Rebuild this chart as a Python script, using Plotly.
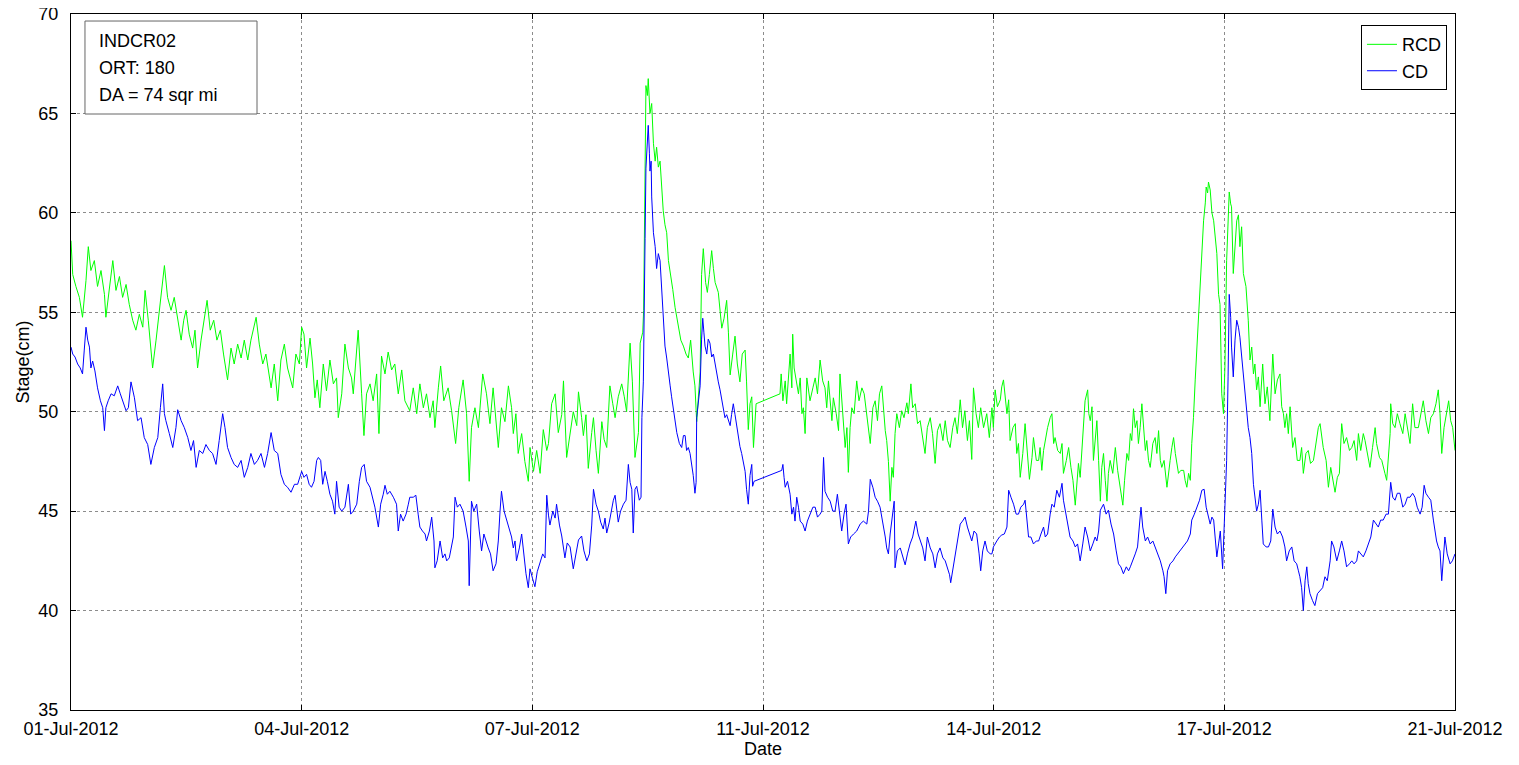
import pandas as pd
import plotly.graph_objs as go

# Стадия (см) по часам от 01-Jul-2012 00:00
rcd_hours = [
    0, 0.6, 1.7, 2.9, 4.0, 5.2, 6.0, 6.9, 8.1, 9.2,
    10.4, 11.6, 12.1, 13.3, 14.5, 15.6, 16.8, 17.9, 19.1, 20.2,
    21.4, 22.5, 23.7, 24.9, 25.7, 26.8, 28.3, 29.5, 30.3, 31.2,
    32.4, 33.5, 34.7, 35.8, 37.0, 38.2, 39.1, 39.9, 41.0, 42.2,
    43.0, 43.9, 45.1, 46.2, 47.2, 48.3, 49.5, 50.6, 51.8, 52.9,
    54.3, 55.5, 56.6, 57.8, 59.0, 60.1, 61.3, 62.4, 64.2, 65.3,
    66.5, 67.6, 69.4, 70.5, 71.7, 72.8, 74.0, 75.1, 76.9, 78.0,
    79.2,
    80.0, 80.8, 81.7, 82.9, 83.8, 84.6, 85.4, 86.3, 87.5, 88.6,
    89.8, 91.0, 92.1, 92.7, 93.9, 95.0, 96.2, 97.3, 97.9, 98.8,
    99.6, 100.8, 101.6, 102.5, 103.7, 104.8, 106.0, 106.8, 107.7, 108.9,
    110.0, 111.2, 112.3, 113.5, 114.7, 115.8, 117.5, 118.7, 119.9, 121.0,
    122.2, 123.3, 124.5, 125.6, 126.2, 127.4, 128.2, 129.3, 130.8, 132.0,
    133.4, 134.5, 136.0, 137.2, 138.1, 138.9, 140.1, 141.3, 142.8, 144.1,
    145.3, 146.4, 148.2, 149.3, 150.5, 151.7, 152.8, 153.4, 154.3, 155.1,
    156.3, 157.4, 158.6,
    159.2, 160.4, 161.5, 162.7, 163.8, 165.0, 165.6, 166.7, 167.9, 169.0,
    170.2, 170.8, 171.9, 173.1, 174.2, 175.4, 176.0, 177.1, 177.7, 178.6,
    179.4, 180.6, 181.2, 182.1, 182.9, 184.1, 184.9, 185.8, 186.9, 187.9,
    188.7, 189.8, 191.0, 191.9, 192.7, 193.9, 194.7, 195.6, 196.8, 197.4,
    198.3, 198.6, 199.1, 199.4, 199.9, 200.2, 200.8, 201.4, 202.0, 202.6,
    203.1, 203.7, 204.3, 204.9, 205.4, 206.0, 206.6, 207.2, 207.8, 208.7,
    209.5, 210.1, 210.6, 211.5, 212.4, 213.3, 214.1, 214.9, 215.8, 216.4,
    217.0, 217.6, 218.2, 218.7, 219.3, 220.1, 220.7, 221.4, 222.2, 222.8,
    223.4, 224.5, 225.1, 225.7, 226.5, 227.4, 228.0, 228.6, 229.5, 230.3,
    231.1, 232.0, 232.8, 233.8, 234.3, 234.9, 235.5, 236.1, 236.7, 237.2,
    237.6,
    245.9, 246.3, 246.9, 247.7, 248.2, 248.8, 249.4, 250.0, 250.3, 250.8,
    251.5, 252.3, 252.9, 253.5, 254.0, 254.6, 255.2, 256.3, 257.3, 258.1,
    258.9, 259.8, 260.7, 261.5, 262.1, 262.7, 263.9, 264.4, 265.4, 266.2,
    266.7, 267.7, 268.5, 269.1, 269.6, 270.2, 270.8, 271.6, 272.5, 273.3,
    274.3, 275.1, 276.0, 276.6, 277.2, 278.1, 278.9, 279.7, 280.4, 281.2,
    281.8, 282.4, 282.9, 283.5, 284.1, 284.7, 285.2, 285.8, 286.4, 287.3,
    288.1, 288.9, 289.9, 290.4, 291.3, 291.9, 292.8, 293.6, 294.5, 295.4,
    296.2, 297.0, 298.0, 298.8, 299.7, 300.5, 301.4, 302.4, 303.2, 304.0,
    304.9, 305.8, 306.6, 307.4, 308.4, 309.2, 310.0, 310.9, 311.6, 312.4,
    313.0, 313.9, 314.7, 315.5, 316.5, 317.6, 318.5,
    319.4, 319.9, 320.5, 321.3, 322.3, 322.8, 323.4, 324.0, 324.6, 325.2,
    325.7, 326.7, 327.5, 328.0, 328.6, 329.2, 330.1, 330.9, 331.7, 332.4,
    333.3, 333.8, 334.8, 335.6, 336.1, 336.7, 337.3, 337.9, 338.7, 339.6,
    340.2, 340.8, 341.3, 342.2, 343.1, 343.7, 344.2, 345.2, 346.0, 346.8,
    347.5, 348.3, 348.9, 349.4, 350.0, 350.6, 351.2, 351.7, 352.6, 353.0,
    353.5, 354.1, 354.6, 355.2, 355.8, 356.4, 357.0, 357.5, 358.1, 358.7,
    359.3, 359.8, 360.4, 361.3, 362.2, 363.0, 363.9, 364.8, 365.4, 366.2,
    366.8, 367.4, 367.9, 368.5, 369.1, 369.7, 370.2, 370.8, 371.4, 372.0,
    372.6, 373.1, 373.7, 374.3, 375.2, 376.0, 376.6, 377.2, 377.8, 378.3,
    379.1, 380.1, 380.6, 381.2, 381.8, 382.4, 383.0, 383.5, 384.1, 384.9,
    385.9, 386.4, 387.0, 387.6, 388.2, 388.7, 389.3, 389.9, 390.5, 391.1,
    391.6, 392.2, 392.8, 393.4, 393.7, 394.2, 394.5, 395.1, 395.7, 396.3,
    396.8, 397.4, 398.0,
    398.5, 398.8, 399.1, 399.7, 400.2, 400.8, 401.4, 401.7, 402.2, 402.5,
    403.1, 403.7, 404.3, 404.9, 405.4, 406.0, 406.6, 407.5, 408.3, 408.9,
    409.5, 410.1, 410.6, 411.2, 411.8, 412.4, 413.3, 414.1, 414.9, 415.8,
    416.8, 417.6, 418.4, 419.3, 419.9, 420.5, 421.0, 421.6, 422.2, 422.8,
    423.7, 424.5, 425.3, 426.2, 426.8, 427.4, 428.3, 429.1, 429.9, 430.9,
    431.8, 432.6, 433.2, 433.8, 434.3, 435.3, 436.1, 436.9, 437.8, 438.4,
    439.2, 439.9, 440.7, 441.5, 442.4, 443.4, 444.2, 445.0, 445.9, 446.5,
    447.3, 448.2, 448.8, 449.6, 450.5, 451.4, 452.3, 452.8, 453.8, 454.6,
    455.1, 455.7, 456.3, 456.9, 457.5, 457.7, 458.4, 459.2, 460.0, 460.9,
    461.9, 462.7, 463.5, 464.4, 465.3, 466.1, 467.3, 468.1, 469.0, 469.9,
    470.8, 471.6, 472.5, 473.4, 474.2, 474.8, 475.4, 476.2, 477.1, 477.8,
    478.5, 479.2, 480.0,
]
rcd_stage = [
    58.6, 56.9, 56.3, 55.75, 54.75, 56.6, 58.3, 57.1, 57.6, 56.3,
    57.1, 55.9, 54.75, 56.3, 57.6, 56.1, 56.8, 55.75, 56.4, 55.4,
    54.6, 54.1, 54.9, 54.25, 56.1, 54.6, 52.2, 53.6, 54.6, 55.9,
    57.35, 55.75, 55.1, 55.75, 54.6, 53.6, 54.6, 55.1, 53.9, 53.2,
    54.1, 52.2, 53.6, 54.6, 55.6, 54.1, 54.6, 53.6, 54.1, 52.9,
    51.6, 53.2, 52.4, 53.4, 52.7, 53.6, 52.6, 53.6, 54.75, 53.4,
    52.4, 52.9, 51.2, 52.4, 50.55, 52.6, 53.4, 52.2, 51.2, 52.9,
    52.4,
    54.25, 53.9, 52.2, 53.7, 52.4, 50.7, 51.6, 50.2, 52.4, 51.05,
    52.6, 51.4, 51.7, 49.7, 50.9, 53.4, 52.2, 51.7, 50.9, 52.6,
    54.1, 50.9, 48.8, 50.9, 51.4, 50.55, 51.9, 48.9, 52.8, 51.9,
    53.0, 52.1, 52.4, 50.9, 52.1, 50.55, 50.05, 51.2, 49.9, 51.4,
    50.2, 50.9, 49.7, 50.55, 49.2, 51.2, 52.3, 50.55, 51.2, 50.05,
    48.4, 50.2, 51.6, 49.9, 46.5, 49.2, 50.2, 49.2, 51.9, 50.9,
    49.4, 51.2, 48.2, 50.2, 49.5, 51.3, 50.2, 48.9, 49.9, 47.9,
    48.9, 47.5, 46.5,
    48.2, 47.0, 48.05, 46.9, 49.1, 48.05, 48.4, 50.4, 50.9, 48.95,
    49.85, 51.55, 47.7, 48.95, 50.0, 49.3, 51.0, 49.7, 48.8, 49.85,
    47.15, 48.95, 49.7, 48.05, 46.9, 49.5, 48.6, 48.2, 51.3, 50.4,
    49.7, 50.75, 51.4, 50.75, 50.0, 53.45, 51.5, 47.7, 48.95, 53.45,
    54.0, 55.1, 62.3, 66.4, 65.9, 66.75, 65.0, 65.5, 63.5, 62.6,
    63.3, 62.3, 62.6, 61.2, 60.1, 59.4, 59.0, 57.6, 56.9, 56.15,
    55.25, 54.7, 54.35, 53.6, 53.3, 52.9, 52.7, 53.6, 52.0, 51.3,
    49.5, 50.75, 52.0, 56.9, 58.2, 56.5, 56.0, 56.9, 58.1, 57.2,
    56.5, 56.0, 55.1, 54.2, 54.7, 55.6, 54.0, 51.85, 52.9, 53.8,
    52.4, 51.5, 52.9, 53.1, 51.5, 49.1, 50.4, 50.75, 48.2, 49.85,
    50.4,
    50.9, 51.9, 50.55, 51.55, 50.4, 51.7, 52.9, 51.2, 53.9, 52.2,
    51.55, 50.9, 51.7, 49.9, 50.2, 48.9, 51.7, 50.55, 51.2, 51.7,
    50.9, 52.6, 51.55, 51.2, 50.2, 51.55, 49.55, 50.7, 49.9, 49.05,
    51.9, 49.9, 48.2, 49.2, 46.95, 49.2, 50.2, 49.9, 51.55, 50.55,
    51.2, 50.9, 49.9, 49.2, 48.4, 50.2, 50.55, 49.55, 50.9, 51.3,
    50.05, 49.05, 48.55, 47.5, 45.5, 47.2, 46.7, 48.9, 49.9, 49.2,
    50.05, 49.7, 50.45, 49.9, 51.4, 50.2, 50.4, 49.4, 49.55, 48.7,
    47.9, 49.2, 49.7, 48.9, 47.4, 49.05, 49.4, 48.55, 49.55, 48.55,
    48.2, 49.2, 49.7, 48.9, 50.6, 49.2, 50.05, 48.55, 49.55, 47.6,
    51.2, 49.9, 49.2, 50.2, 49.2, 49.9, 48.7,
    50.2, 49.2, 51.1, 50.25, 50.6, 51.25, 51.6, 50.6, 49.9, 50.6,
    48.55, 49.2, 49.4, 47.9, 48.4, 46.7, 47.9, 49.4, 47.9, 46.6,
    47.7, 48.7, 47.55, 47.55, 48.2, 47.05, 48.05, 48.55, 49.2, 49.7,
    49.9, 48.4, 48.7, 48.05, 47.9, 48.4, 46.9, 47.55, 48.2, 47.2,
    46.55, 45.3, 46.55, 47.4, 46.7, 47.9, 49.2, 50.55, 51.1, 49.9,
    49.55, 50.25, 47.55, 48.7, 49.55, 47.55, 45.5, 47.2, 47.9, 46.55,
    45.5, 46.9, 47.55, 46.9, 48.2, 47.05, 46.05, 45.3, 46.55, 47.9,
    47.55, 48.9, 48.55, 50.15, 49.2, 49.55, 48.4, 49.2, 50.4, 48.9,
    48.05, 48.55, 47.55, 47.2, 48.4, 48.7, 47.9, 49.05, 47.55, 47.2,
    47.55, 46.2, 46.9, 47.55, 48.2, 48.7, 47.9, 47.4, 46.9, 47.05,
    47.05, 46.55, 46.2, 46.9, 46.55, 48.4, 49.7, 51.6, 53.25, 54.9,
    56.3, 58.3, 59.6, 60.5, 61.3, 61.0, 61.55, 61.15, 60.0, 59.6,
    58.95, 57.95, 55.9,
    55.4, 53.25, 50.9, 49.9, 52.25, 57.6, 59.6, 61.05, 60.45, 60.3,
    56.95, 58.6, 59.6, 59.9, 58.3, 59.3, 56.95, 56.3, 54.6, 52.6,
    53.25, 51.9, 52.4, 51.1, 51.75, 50.25, 52.4, 50.4, 51.25, 49.55,
    52.9, 50.9, 51.6, 51.9, 50.25, 49.9, 49.2, 49.9, 48.9, 50.25,
    48.2, 48.7, 47.55, 47.55, 48.2, 46.9, 47.9, 48.05, 47.4, 47.55,
    48.4, 49.2, 49.4, 48.7, 48.2, 47.55, 46.2, 47.2, 46.55, 45.95,
    46.7, 46.9, 49.4, 48.4, 48.7, 48.05, 48.2, 48.55, 47.55, 48.9,
    48.05, 48.9, 48.55, 47.9, 47.2, 48.2, 49.2, 48.4, 47.7, 47.55,
    47.2, 46.9, 46.55, 47.55, 48.9, 50.4, 49.4, 49.2, 49.9, 49.4,
    48.9, 49.9, 49.2, 48.4, 50.4, 49.2, 49.2, 49.9, 50.55, 49.55,
    48.9, 49.7, 49.9, 50.4, 51.1, 49.9, 47.9, 49.2, 50.05, 50.55,
    49.55, 49.2, 48.05,
]

cd_hours = [
    0, 0.6, 1.4, 2.3, 3.2, 4.0, 4.6, 5.2, 5.8, 6.4,
    6.9, 7.5, 8.3, 9.2, 10.2, 11.0, 11.6, 12.1, 12.9, 13.9,
    15.0, 16.2, 17.1, 17.9, 19.1, 19.9, 20.8, 22.0, 23.1, 24.3,
    25.4, 26.6, 27.7, 28.9, 30.1, 31.0, 31.8, 32.4, 32.9, 34.1,
    35.3, 36.4, 37.0, 38.2, 39.3, 40.5, 41.6, 42.5, 43.4, 44.5,
    45.7, 46.8, 48.0, 49.1, 50.3, 51.4, 52.6, 53.4, 54.3, 55.5,
    56.6, 57.8, 59.0, 60.1, 61.3, 62.4, 63.6, 64.7, 65.9, 67.1,
    68.2, 69.4, 70.5, 71.7, 72.8, 74.0, 75.1, 76.3, 77.5, 78.6,
    79.8,
    80.0, 80.8, 81.7, 82.6, 83.4, 84.3, 85.2, 85.8, 86.6, 87.3,
    88.1, 88.9, 89.8, 90.7, 91.5, 92.1, 93.0, 93.9, 95.0, 96.2,
    97.0, 97.9, 99.1, 100.0, 100.8, 101.7, 102.5, 103.7, 104.6, 105.4,
    106.6, 107.4, 108.3, 108.9, 109.7, 110.6, 111.8, 112.9, 113.5, 114.3,
    115.2, 116.2, 117.0, 117.5, 118.7, 119.6, 120.4, 121.0, 121.9, 122.8,
    123.3, 124.3, 125.1, 125.9, 126.2, 127.0, 128.0, 128.9, 129.7, 130.3,
    131.2, 132.0, 132.6, 133.2, 134.0, 134.9, 136.0, 137.0, 137.8, 138.1,
    138.6, 138.9, 139.7, 140.7, 141.6, 142.4, 143.2, 143.9, 144.7, 145.5,
    146.4, 147.4, 148.2, 148.8, 149.3, 150.2, 151.1, 152.0, 152.8, 153.4,
    154.0, 154.5, 155.5, 156.3, 157.1, 157.8, 158.6,
    159.2, 160.1, 160.9, 161.7, 162.7, 163.6, 164.4, 165.0, 165.6, 166.1,
    167.1, 167.9, 168.4, 169.4, 170.2, 171.3, 172.1, 173.1, 174.2, 175.2,
    176.0, 177.1, 177.9, 178.9, 179.8, 180.6, 181.2, 182.1, 182.9, 183.7,
    184.6, 185.2, 185.8, 186.7, 187.5, 188.1, 188.7, 189.3, 189.8, 190.6,
    191.6, 192.5, 193.3, 193.9, 194.5, 195.0, 195.6, 196.2, 197.1, 197.7,
    198.0, 198.5, 198.9, 199.1, 199.4, 199.7, 200.0, 200.2, 200.6, 200.8,
    201.2, 201.4, 202.0, 202.6, 203.1, 203.7, 204.3, 204.9, 205.4, 206.0,
    206.6, 207.2, 207.8, 208.3, 208.9, 209.5, 210.1, 211.0, 211.8, 212.4,
    213.0, 213.5, 214.1, 214.7, 215.3, 215.8, 216.4, 216.8, 217.0, 217.6,
    218.2, 218.7, 219.1, 219.5, 219.9, 220.5, 221.0, 221.6, 222.2, 222.8,
    223.4, 223.9, 224.5, 225.1, 225.7, 226.3, 226.8, 227.4, 228.0, 228.6,
    229.1, 229.7, 230.3, 230.9, 231.5, 232.0, 232.6, 233.2, 233.8, 234.3,
    234.9, 235.5, 236.1, 236.4, 236.9,
    246.5, 246.9, 247.3, 247.7, 248.5, 249.4, 250.0, 250.6, 251.1, 251.7,
    252.3, 252.9, 253.8, 254.6, 255.4, 256.3, 257.3, 258.1, 258.9, 259.8,
    260.4, 261.0, 261.5, 262.4, 263.3, 264.2, 265.0, 265.8, 266.5, 267.3,
    268.1, 268.8, 269.6, 270.4, 271.4, 272.5, 273.7, 274.8, 276.0, 276.6,
    277.2, 278.1, 278.9, 279.7, 280.6, 281.5, 282.4, 282.9, 283.5, 284.1,
    284.7, 285.5, 285.8, 286.6, 287.6, 288.5, 289.3, 290.1, 291.0, 291.9,
    293.0, 293.8, 294.5, 295.4, 296.2, 297.0, 298.0, 298.9, 299.7, 300.5,
    301.4, 302.4, 303.2, 304.0, 304.7, 305.1, 305.8, 306.6, 307.4, 308.4,
    309.2, 310.1, 310.9, 311.6, 312.4, 313.2, 314.1, 314.95, 315.5, 316.2,
    317.0, 317.8, 318.8,
    319.4, 319.9, 321.1, 322.0, 322.8, 323.7, 324.6, 325.2, 326.0, 326.9,
    327.8, 328.6, 329.4, 330.4, 330.9, 331.5, 332.1, 332.9, 333.8, 334.8,
    335.6, 336.4, 337.3, 337.9, 338.7, 339.6, 340.2, 341.0, 341.9, 342.8,
    343.7, 344.2, 344.8, 345.6, 346.5, 347.5, 348.3, 349.1, 350.0, 350.9,
    351.7, 352.6, 353.5, 354.4, 355.2, 355.8, 356.4, 357.0, 357.5, 358.1,
    359.0, 359.8, 360.7, 361.6, 362.5, 363.3, 364.1, 365.0, 366.0, 366.8,
    367.4, 368.3, 369.1, 369.9, 371.1, 371.7, 372.6, 373.4, 374.3, 375.2,
    376.0, 376.8, 377.8, 378.7, 379.1, 379.7, 380.3, 381.2, 382.2, 383.0,
    383.8, 384.7, 385.6, 386.4, 387.2, 388.2, 388.7, 389.6, 390.5, 391.4,
    392.2, 393.0, 393.7, 394.2, 395.1, 395.7, 396.3, 396.8, 397.4, 398.0,
    398.6,
    399.4, 400.2, 400.8, 401.3, 401.7, 402.2, 402.5, 403.1, 403.7, 404.3,
    404.9, 405.4, 406.0, 406.6, 407.2, 407.7, 408.3, 408.9, 409.5, 410.1,
    410.6, 411.2, 411.8, 412.4, 413.0, 413.5, 414.5, 415.3, 416.1, 416.8,
    417.6, 418.4, 419.3, 420.2, 421.0, 421.6, 422.5, 423.4, 424.2, 425.1,
    425.7, 426.2, 426.8, 427.4, 428.0, 428.6, 429.1, 429.7, 430.6, 431.4,
    432.3, 433.2, 434.1, 434.9, 435.7, 436.7, 437.2, 438.0, 439.0, 439.9,
    440.7, 441.5, 442.4, 443.4, 444.2, 445.0, 445.9, 446.5, 447.3, 448.2,
    449.1, 449.9, 450.8, 451.7, 452.6, 453.4, 454.2, 455.1, 456.1, 456.9,
    457.7, 458.4, 459.2, 460.0, 460.9, 461.9, 462.7, 463.5, 464.4, 465.3,
    466.1, 466.9, 467.9, 468.6, 469.3, 469.9, 470.8, 471.6, 472.5, 473.1,
    473.6, 474.2, 474.8, 475.4, 476.0, 476.5, 477.3, 478.3, 479.1, 480.0,
]
cd_stage = [
    53.25, 52.9, 52.75, 52.4, 52.2, 51.9, 53.1, 54.25, 53.6, 53.25,
    52.2, 52.55, 52.05, 51.2, 50.55, 50.2, 49.05, 50.2, 50.55, 50.9,
    50.8, 51.3, 50.9, 50.55, 50.05, 50.2, 51.5, 50.7, 49.55, 49.7,
    48.7, 48.35, 47.35, 48.2, 48.7, 50.2, 51.4, 49.9, 49.55, 48.9,
    48.2, 49.2, 50.1, 49.55, 49.2, 48.7, 48.05, 48.55, 47.2, 48.05,
    47.9, 48.35, 48.05, 47.9, 47.35, 48.55, 49.9, 49.2, 48.2, 47.7,
    47.35, 47.2, 47.55, 46.7, 47.2, 47.9, 47.35, 47.55, 47.9, 47.2,
    47.9, 48.95, 48.05, 47.9, 46.85, 46.35, 46.2, 45.95, 46.35, 46.35,
    46.85,
    47.0, 46.7, 46.85, 46.35, 46.2, 46.5, 47.55, 47.7, 47.55, 46.35,
    47.0, 46.5, 45.85, 45.5, 44.85, 46.5, 45.2, 45.0, 45.2, 46.35,
    44.85, 45.0, 45.35, 46.5, 47.2, 47.35, 46.5, 46.2, 45.7, 45.2,
    44.2, 45.35, 45.85, 46.3, 45.85, 46.0, 45.7, 45.35, 44.0, 44.85,
    44.5, 44.85, 45.35, 45.7, 45.7, 45.8, 44.85, 44.2, 44.0, 43.85,
    43.5, 44.0, 44.7, 43.5, 42.15, 42.5, 43.5, 42.65, 42.85, 42.5,
    42.65, 43.35, 43.7, 45.7, 45.2, 45.35, 45.0, 44.2, 43.5, 41.25,
    44.5, 45.5, 45.0, 45.35, 44.0, 43.0, 43.85, 43.5, 43.15, 42.85,
    42.0, 42.35, 43.5, 45.0, 46.0, 45.0, 44.5, 44.0, 43.7, 43.15,
    43.5, 42.5, 43.15, 43.85, 42.65, 41.85, 41.15,
    42.1, 41.6, 41.2, 41.95, 42.5, 42.85, 42.65, 45.8, 44.8, 44.3,
    45.0, 44.65, 45.35, 44.3, 43.75, 42.65, 43.4, 43.2, 42.1, 42.85,
    43.55, 43.75, 43.0, 42.5, 42.85, 44.3, 46.1, 45.35, 45.0, 44.45,
    44.1, 44.65, 43.9, 44.45, 45.2, 45.55, 45.8, 45.0, 44.45, 45.0,
    45.35, 45.55, 47.35, 46.45, 46.1, 43.9, 46.1, 46.25, 45.55, 45.7,
    49.7, 51.5, 55.1, 58.7, 62.25, 63.15, 64.05, 64.4, 63.0, 62.1,
    62.6, 60.8, 59.0, 58.3, 57.2, 57.95, 57.6, 55.95, 54.5, 53.3,
    52.7, 51.85, 51.3, 50.75, 50.05, 49.5, 48.95, 48.4, 48.2, 48.8,
    48.8, 48.05, 48.2, 47.9, 47.35, 46.8, 45.9, 46.45, 49.7, 50.6,
    51.3, 53.65, 54.7, 54.0, 53.3, 52.9, 53.65, 53.45, 52.75, 52.9,
    52.4, 51.85, 51.5, 51.1, 50.6, 50.05, 49.7, 49.85, 49.5, 49.3,
    49.85, 50.4, 49.85, 49.3, 48.6, 48.25, 47.9, 47.35, 47.0, 46.1,
    45.35, 46.8, 47.35, 46.25, 46.5,
    47.05, 47.35, 46.7, 46.2, 46.5, 45.85, 44.85, 45.2, 44.5, 45.7,
    45.2, 44.5, 44.35, 44.0, 44.5, 44.85, 45.2, 45.2, 44.7, 44.85,
    45.0, 47.7, 46.0, 45.7, 45.5, 45.0, 45.0, 45.85, 44.85, 44.0,
    44.85, 45.35, 43.35, 43.7, 43.85, 44.0, 44.35, 44.5, 44.35, 45.0,
    46.6, 46.2, 45.7, 45.5, 45.2, 44.5, 43.7, 43.15, 42.85, 43.85,
    44.5, 45.5, 42.15, 43.0, 43.15, 42.65, 42.3, 42.85, 43.35, 43.7,
    44.5, 43.85, 43.5, 43.15, 42.5, 43.7, 43.15, 42.85, 42.15, 42.85,
    43.15, 42.65, 42.5, 42.15, 41.8, 41.4, 42.0, 42.65, 43.5, 44.35,
    44.5, 44.7, 44.2, 43.85, 43.5, 44.0, 43.85, 42.85, 42.0, 43.0,
    43.5, 43.0, 42.85,
    42.85, 43.2, 43.5, 43.7, 43.8, 43.85, 44.2, 46.05, 45.7, 45.35,
    44.85, 44.85, 45.2, 45.35, 45.55, 44.7, 43.7, 43.7, 43.35, 43.5,
    43.5, 43.85, 44.2, 43.7, 43.85, 44.85, 45.35, 45.2, 46.05, 45.7,
    46.4, 45.55, 45.05, 44.5, 43.7, 43.5, 43.2, 43.35, 42.5, 43.35,
    44.2, 43.7, 43.0, 43.35, 43.7, 43.5, 44.0, 45.05, 45.2, 45.35,
    44.85, 45.05, 44.35, 43.85, 43.0, 42.35, 42.2, 41.85, 42.2, 42.0,
    42.2, 42.5, 42.85, 43.2, 45.2, 44.2, 43.5, 43.7, 43.35, 43.5,
    43.2, 42.85, 42.5, 42.0, 41.7, 40.85, 42.0, 42.35, 42.5, 42.7,
    42.85, 43.0, 43.2, 43.35, 43.5, 43.85, 44.55, 44.85, 45.2, 45.55,
    46.05, 46.1, 45.2, 44.85, 44.35, 44.7, 44.55, 43.7, 42.7, 43.35,
    44.0,
    42.1, 45.9, 47.55, 51.75, 55.9, 54.75, 53.25, 51.75, 53.6, 54.6,
    54.25, 53.75, 52.75, 51.9, 50.9, 50.05, 49.2, 48.7, 47.9, 46.35,
    45.85, 45.0, 45.35, 46.05, 44.55, 43.35, 43.2, 43.2, 43.5, 45.1,
    44.2, 43.85, 44.0, 43.7, 43.2, 42.5, 43.0, 43.2, 42.5, 42.35,
    42.0, 41.7, 41.15, 40.0, 41.5, 42.2, 41.35, 40.85, 40.5, 40.25,
    40.85, 41.0, 41.15, 41.7, 41.5, 42.5, 43.5, 43.2, 42.5, 43.0,
    43.5, 43.0, 42.2, 42.35, 42.5, 42.35, 42.5, 43.0, 42.85, 42.7,
    43.0, 43.35, 43.7, 44.55, 44.35, 44.2, 44.55, 44.55, 44.85, 44.85,
    46.45, 45.7, 45.55, 45.9, 45.9, 45.2, 45.35, 45.7, 45.7, 45.9,
    45.7, 45.2, 44.85, 45.2, 46.3, 45.9, 45.7, 45.55, 44.55, 44.0,
    43.5, 43.2, 43.0, 41.5, 42.7, 43.7, 42.85, 42.35, 42.5, 42.85,
]

# Подписи оси X (MATLAB datetick, шаг 20/6 суток)
tick_hours = [0, 80, 160, 240, 320, 400, 480]
tick_labels = ['01-Jul-2012', '04-Jul-2012', '07-Jul-2012', '11-Jul-2012',
               '14-Jul-2012', '17-Jul-2012', '21-Jul-2012']
info_lines = ['INDCR02', 'ORT: 180', 'DA = 74 sqr mi']

assert len(rcd_hours) == len(rcd_stage), (len(rcd_hours), len(rcd_stage))
assert len(cd_hours) == len(cd_stage), (len(cd_hours), len(cd_stage))

start = pd.Timestamp('2012-07-01')
to_time = lambda h: start + pd.to_timedelta(pd.Series(h, dtype=float), unit='h')

font = 'Liberation Sans, Arial, sans-serif'

fig = go.Figure()
fig.add_trace(go.Scatter(x=to_time(rcd_hours), y=rcd_stage, mode='lines', name='RCD',
                         line=dict(color='#00ff00', width=1)))
fig.add_trace(go.Scatter(x=to_time(cd_hours), y=cd_stage, mode='lines', name='CD',
                         line=dict(color='#0000ff', width=1)))

axis_style = dict(showline=True, linecolor='black', linewidth=1, mirror='allticks',
                  ticks='inside', ticklen=5, tickcolor='black', automargin=False,
                  ticklabeloverflow='allow',
                  showgrid=True, gridcolor='#8c8c8c', griddash='dot', gridwidth=1,
                  zeroline=False, tickfont=dict(family=font, size=18, color='black'))

# страница html добавляет отступ 8px, поэтому фигура чуть меньше окна
fig.update_layout(
    width=1511, height=757,
    margin=dict(l=63, r=64, t=6, b=55),
    paper_bgcolor='white', plot_bgcolor='white',
    font=dict(family=font, size=18, color='black'),
    xaxis=dict(range=[start, to_time([480])[0]],
               tickvals=to_time(tick_hours), ticktext=tick_labels,
               title=dict(text='Date', font=dict(size=18), standoff=4),
               ticklabelstandoff=2,
               **axis_style),
    yaxis=dict(range=[35, 70], dtick=5, tick0=35,
               title=dict(text='Stage(cm)', font=dict(size=18), standoff=4),
               ticklabelstandoff=8,
               **axis_style),
    legend=dict(x=0.9942, y=0.984, xanchor='right', yanchor='top',
                bgcolor='white', bordercolor='black', borderwidth=1,
                font=dict(family=font, size=18), tracegroupgap=0),
    showlegend=True,
)

# Информационная рамка в левом верхнем углу
fig.add_shape(type='rect', xref='paper', yref='paper',
              x0=0.0101, x1=0.1344, y0=0.8563, y1=0.9899,
              line=dict(color='#666666', width=1), fillcolor='white')
for i, txt in enumerate(info_lines):
    fig.add_annotation(xref='paper', yref='paper', x=0.0188, y=0.9612 - i * 0.0385,
                       xanchor='left', yanchor='middle', text=txt, showarrow=False,
                       font=dict(family=font, size=18, color='black'))

fig.write_html('out.html')
